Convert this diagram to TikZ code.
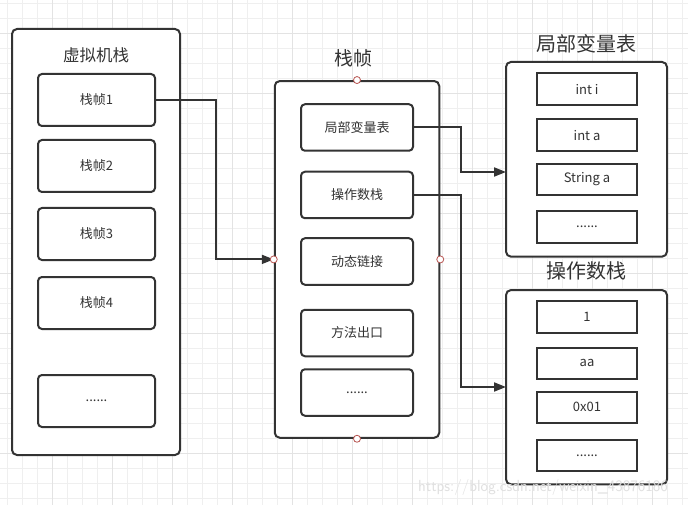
\documentclass[tikz,border=0pt]{standalone}
\usepackage{fontspec}
\setmainfont{Noto Sans CJK SC}
\usetikzlibrary{arrows.meta}
\definecolor{ln}{HTML}{333333}
\definecolor{tx}{HTML}{333333}
\definecolor{gridc}{HTML}{EFEFEF}
\definecolor{gridm}{HTML}{E3E3E3}
\definecolor{hand}{HTML}{B85450}
\tikzset{
  rbox/.style={draw=ln, line width=2pt, rounded corners=4pt, fill=white, inner sep=0pt, text=tx, font=\fontsize{13}{15}\selectfont},
  sbox/.style={draw=ln, line width=2pt, fill=white, inner sep=0pt, text=tx, font=\fontsize{13}{15}\selectfont},
  outer/.style={draw=ln, line width=2pt, rounded corners=5pt, fill=white, inner sep=0pt},
  ttl/.style={text=tx, inner sep=0pt},
  conn/.style={draw=ln, line width=2pt, -{Triangle[length=12pt,width=9pt]}},
  handle/.style={circle, draw=hand, fill=white, line width=0.8pt, minimum size=7pt, inner sep=0pt},
}
\begin{document}
\begin{tikzpicture}[x=1pt,y=-1pt]
\useasboundingbox (0,0) rectangle (688,505);
\fill[white] (0,0) rectangle (688,505);
% grid
\foreach \i in {0,...,45} {
  \pgfmathsetmacro{\gx}{7.3+15*\i}
  \draw[gridc, line width=1pt] (\gx,0) -- (\gx,505);
}
\foreach \i in {0,...,33} {
  \pgfmathsetmacro{\gy}{3.3+15*\i}
  \draw[gridc, line width=1pt] (0,\gy) -- (688,\gy);
}
\foreach \i in {0,...,11} {
  \pgfmathsetmacro{\gx}{52.3+60*(\i-1)}
  \draw[gridm, line width=1pt] (\gx,0) -- (\gx,505);
}
\foreach \i in {0,...,8} {
  \pgfmathsetmacro{\gy}{33.3+60*\i}
  \draw[gridm, line width=1pt] (0,\gy) -- (688,\gy);
}
% left stack
\node[outer, minimum width=168pt, minimum height=426pt] (vm) at (96,242) {};
\node[ttl, font=\fontsize{16.5}{18}\selectfont] (vmt) at (96,55) {虚拟机栈};
\node[rbox, minimum width=117pt, minimum height=52pt] (f1) at (96.5,100) {栈帧1};
\node[rbox, minimum width=117pt, minimum height=52pt] (f2) at (96.5,166) {栈帧2};
\node[rbox, minimum width=117pt, minimum height=52pt] (f3) at (96.5,234) {栈帧3};
\node[rbox, minimum width=117pt, minimum height=52pt] (f4) at (96.5,303) {栈帧4};
\node[rbox, minimum width=117pt, minimum height=52pt] (f5) at (96.5,401) {......};
% middle frame
\node[outer, minimum width=164.5pt, minimum height=356.7pt] (mid) at (357,259.4) {};
\node[ttl, font=\fontsize{19}{21}\selectfont] (midt) at (353.5,58) {栈帧};
\node[rbox, minimum width=112pt, minimum height=46.5pt] (lv) at (357,127.5) {局部变量表};
\node[rbox, minimum width=112pt, minimum height=46.5pt] (os) at (357,195) {操作数栈};
\node[rbox, minimum width=112pt, minimum height=46.5pt] (dl) at (357,261.5) {动态链接};
\node[rbox, minimum width=112pt, minimum height=46.5pt] (me) at (357,333) {方法出口};
\node[rbox, minimum width=112pt, minimum height=46.5pt] (md) at (357,392.5) {......};
% right: local variable table
\node[outer, minimum width=161pt, minimum height=194.7pt] (lvt) at (586.5,159.3) {};
\node[ttl, font=\fontsize{20}{22}\selectfont] (lvtt) at (586,44) {局部变量表};
\node[sbox, minimum width=100.5pt, minimum height=31.5pt] (v1) at (587,89.2) {int i};
\node[sbox, minimum width=100.5pt, minimum height=31.5pt] (v2) at (587,135.2) {int a};
\node[sbox, minimum width=100.5pt, minimum height=31.5pt] (v3) at (587,179.4) {String a};
\node[sbox, minimum width=100.5pt, minimum height=31.5pt] (v4) at (587,227.2) {......};
% right: operand stack
\node[outer, minimum width=161pt, minimum height=194.3pt] (ost) at (586.5,387.2) {};
\node[ttl, font=\fontsize{20}{22}\selectfont] (ostt) at (586,271) {操作数栈};
\node[sbox, minimum width=100.5pt, minimum height=31.5pt] (o1) at (587,317.2) {1};
\node[sbox, minimum width=100.5pt, minimum height=31.5pt] (o2) at (587,363.3) {aa};
\node[sbox, minimum width=100.5pt, minimum height=31.5pt] (o3) at (587,407.3) {0x01};
\node[sbox, minimum width=100.5pt, minimum height=31.5pt] (o4) at (587,455.3) {......};
% connectors
\coordinate (a2) at (506,172);
\coordinate (a3) at (506,387);
\draw[conn] (f1.east) -- ++(60,0) |- (mid.west);
\draw[conn] (lv.east) -- ++(46.5,0) |- (a2);
\draw[conn] (os.east) -- ++(46.5,0) |- (a3);
% handles
\node[handle] (h1) at (mid.north) {};
\node[handle] (h2) at (mid.south) {};
\node[handle] (h3) at (mid.west) {};
\node[handle] (h4) at (mid.east) {};
% watermark
\node[text=black!12, font=\fontsize{16}{18}\selectfont\sffamily, inner sep=0pt] (wm) at (543,487) {https://blog.csdn.net/weixin\_43876186};
\end{tikzpicture}
\end{document}
